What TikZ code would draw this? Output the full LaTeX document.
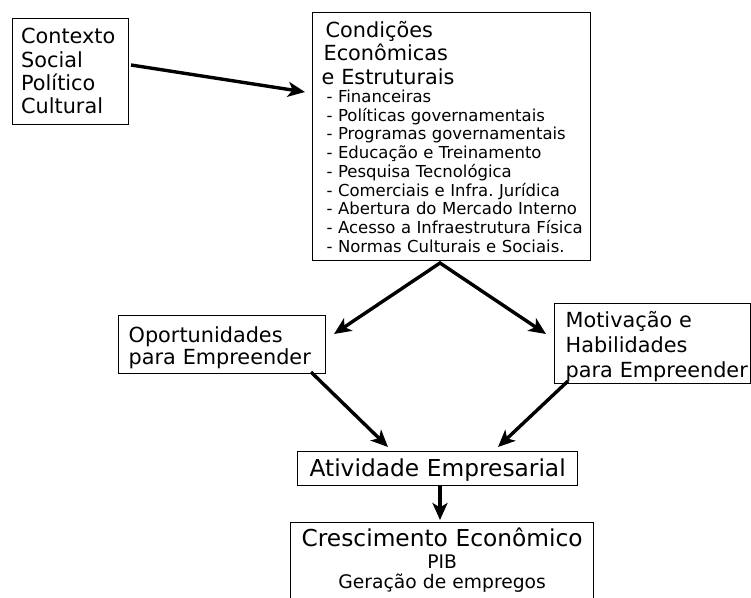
\documentclass[tikz,border=0pt]{standalone}
\usepackage{fontspec}
\setmainfont{DejaVu Sans}
\usetikzlibrary{arrows.meta}
\frenchspacing
\newcommand\tline[1]{\hbox{#1}}
\newcommand\ctline[1]{\hbox to \hsize{\hfil#1\hfil}}
\newcommand\setfs[2]{\fontsize{#1}{#2}\selectfont\spaceskip=.33em\relax}
\begin{document}
\begin{tikzpicture}[x=1pt,y=-1pt,
  box/.style={draw, line width=1.3pt, anchor=north west, inner ysep=0pt},
  arr/.style={line width=3.4pt, -{Stealth[length=17pt,width=15pt,inset=4.5pt]}},
  arrtwo/.style={line width=3.4pt, line join=miter, {Stealth[length=17pt,width=15pt,inset=4.5pt]}-{Stealth[length=17pt,width=15pt,inset=4.5pt]}},
]
\useasboundingbox (0,0) rectangle (751,597);
\clip (0,0) rectangle (751,597);

\node[box, inner xsep=8.5pt, text width=99pt, text height=25.3pt, text depth=80.7pt] (ctx) at (12,18)
  {\vtop{\lineskiplimit=-1000pt \setfs{20.8}{23.3}
   \tline{Contexto}\tline{Social}\tline{Político}\tline{Cultural}}};

\node[box, inner xsep=9pt, text width=260pt, text height=24.5pt, text depth=223.5pt] (cond) at (312,12)
  {\vtop{\lineskiplimit=-1000pt \setfs{20.8}{23.7}
   \tline{\kern4pt Condições}\tline{\kern2pt Econômicas}\tline{e Estruturais}
   \setfs{16.5}{17.7}
   \tline{\kern5pt - Financeiras}
   \baselineskip=18.75pt
   \tline{\kern5pt - Políticas governamentais}
   \tline{\kern5pt - Programas governamentais}
   \tline{\kern5pt - Educação e Treinamento}
   \tline{\kern5pt - Pesquisa Tecnológica}
   \tline{\kern5pt - Comerciais e Infra. Jurídica}
   \tline{\kern5pt - Abertura do Mercado Interno}
   \tline{\kern5pt - Acesso a Infraestrutura Física}
   \tline{\kern5pt - Normas Culturais e Sociais.}}};

\node[box, inner xsep=10pt, text width=187pt, text height=26.7pt, text depth=31.3pt] (opo) at (118,315)
  {\vtop{\lineskiplimit=-1000pt \setfs{20.8}{22.3}
   \tline{Oportunidades}\tline{para Empreender}}};

\node[box, inner xsep=11pt, text width=174pt, text height=24.3pt, text depth=55.7pt] (mot) at (554,303)
  {\vtop{\lineskiplimit=-1000pt \setfs{20.8}{25}
   \tline{Motivação e}\tline{Habilidades}\tline{para Empreender}}};

\node[box, inner xsep=0pt, text width=280pt, text height=25pt, text depth=9pt] (ati) at (297,451)
  {\vtop{\setfs{23.3}{26}\ctline{Atividade Empresarial}}};

\node[box, inner xsep=0pt, text width=303pt, text height=24pt, text depth=66pt] (cre) at (290,522)
  {\vtop{\lineskiplimit=-1000pt \setfs{23.3}{26}
   \ctline{Crescimento Econômico}
   \setfs{18.7}{21.5}
   \ctline{PIB}
   \baselineskip=20pt
   \ctline{Geração de empregos}}};

\coordinate (c1s) at (131,65);
\coordinate (c1e) at (305,92);
\draw[arr] (c1s) -- (c1e);

\coordinate (apex) at (440,263);
\coordinate (tl) at (334,334);
\coordinate (tr) at (546,334);
\draw[arrtwo] (tl) -- (apex) -- (tr);

\coordinate (o1) at (311,372);
\coordinate (o2) at (388,447);
\draw[arr] (o1) -- (o2);

\coordinate (m1) at (568,381);
\coordinate (m2) at (498,447);
\draw[arr] (m1) -- (m2);

\coordinate (a1) at (440,486);
\coordinate (a2) at (440,520);
\draw[arr] (a1) -- (a2);
\end{tikzpicture}
\end{document}
